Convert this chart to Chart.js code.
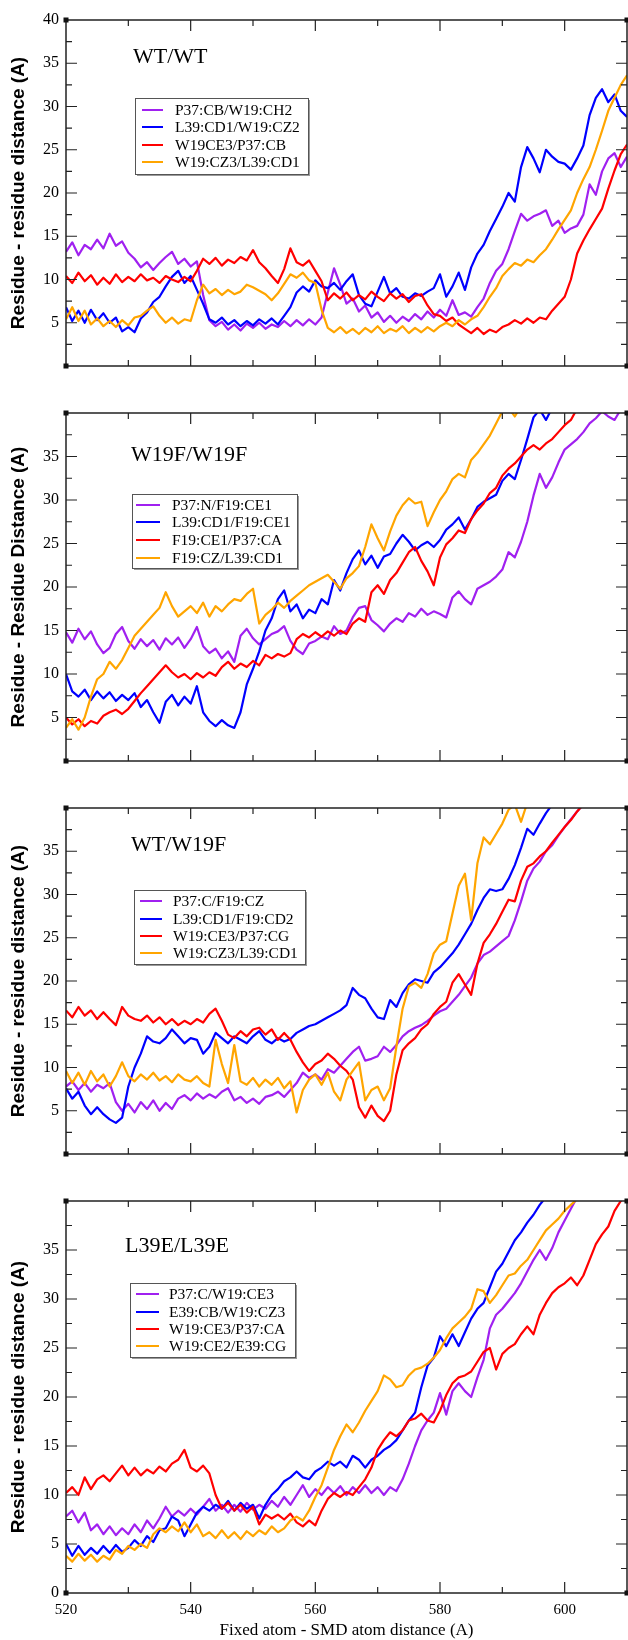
<!DOCTYPE html>
<html><head><meta charset="utf-8">
<script src="https://cdn.jsdelivr.net/npm/chart.js@4.4.1/dist/chart.umd.min.js"></script>
<style>
html,body{margin:0;padding:0;background:#fff;}
#wrap{position:relative;width:628px;height:1640px;overflow:hidden;background:#fff;}
#wrap canvas{position:absolute;left:0;}
</style></head><body><div id="wrap"></div>
<script>
// x positions (Fixed atom - SMD atom distance, A)
const X = [520,521,522,523,524,525,526,527,528,529,530,531,532,533,534,535,536,537,538,539,
540,541,542,543,544,545,546,547,548,549,550,551,552,553,554,555,556,557,558,559,
560,561,562,563,564,565,566,567,568,569,570,571,572,573,574,575,576,577,578,579,
580,581,582,583,584,585,586,587,588,589,590,591,592,593,594,595,596,597,598,599,
600,601,602,603,604,605,606,607,608,609,610];
const xTickValues = [520,540,560,580,600];
const yTickValues = [0,5,10,15,20,25,30,35,40];

const panelTitles = ['WT/WT','W19F/W19F','WT/W19F','L39E/L39E'];
const yTitles = ['Residue - residue distance (A)','Residue - Residue Distance (A)','Residue - residue distance (A)','Residue - residue distance (A)'];
const xTitle = 'Fixed atom - SMD atom distance (A)';

const labels1 = ['P37:CB/W19:CH2','L39:CD1/W19:CZ2','W19CE3/P37:CB','W19:CZ3/L39:CD1'];
const labels2 = ['P37:N/F19:CE1','L39:CD1/F19:CE1','F19:CE1/P37:CA','F19:CZ/L39:CD1'];
const labels3 = ['P37:C/F19:CZ','L39:CD1/F19:CD2','W19:CE3/P37:CG','W19:CZ3/L39:CD1'];
const labels4 = ['P37:C/W19:CE3','E39:CB/W19:CZ3','W19:CE3/P37:CA','W19:CE2/E39:CG'];

// Panel 1: WT/WT
const p1Purple = [13.2,14.3,12.8,14.0,13.5,14.6,13.6,15.3,13.9,14.4,13.1,12.4,11.4,12.0,11.1,11.9,12.6,13.2,11.8,12.4,
11.5,12.1,8.2,5.3,4.6,5.1,4.2,4.8,4.1,4.9,4.4,5.0,4.3,4.8,4.5,5.2,4.6,5.3,4.7,5.4,
4.8,5.6,8.5,11.3,9.4,7.2,7.8,6.3,7.0,5.6,6.2,5.1,5.8,5.0,5.7,5.2,6.0,5.4,6.3,5.6,
6.5,5.8,7.6,5.9,6.2,5.7,6.8,7.8,9.6,11.0,11.8,13.5,15.6,17.6,16.8,17.3,17.6,18.0,16.2,16.8,
15.4,15.9,16.2,17.5,21.0,19.8,22.5,24.0,24.6,23.0,24.2];
const p1Blue = [6.8,5.2,6.4,5.0,6.5,5.3,6.1,5.0,5.6,4.0,4.5,3.9,5.5,6.2,7.4,8.0,9.2,10.3,11.0,9.6,
10.4,8.8,7.2,5.4,5.0,5.6,4.8,5.3,4.6,5.2,4.7,5.4,4.9,5.5,4.8,5.8,6.8,8.5,9.2,8.6,
9.9,9.2,9.0,9.6,8.8,9.8,10.6,8.2,7.2,6.9,8.6,10.3,8.4,9.0,8.0,7.8,8.4,8.1,8.6,9.0,
10.6,8.0,9.2,10.8,8.8,11.4,13.0,14.0,15.6,17.0,18.4,20.0,19.0,23.0,25.3,24.0,22.4,25.0,24.2,23.6,
23.4,22.7,24.0,25.5,29.0,31.0,32.0,30.5,31.4,29.5,28.8];
const p1Red = [10.4,9.6,10.8,9.8,10.5,9.4,10.2,9.5,10.6,9.7,10.3,9.8,10.6,9.9,10.2,9.6,10.4,10.0,9.7,10.3,
9.8,11.0,12.4,11.8,12.5,11.6,12.3,11.9,12.6,12.2,13.4,12.0,11.3,10.4,9.6,11.2,13.6,12.0,11.6,12.2,
11.0,9.8,7.6,8.4,7.8,8.5,7.6,8.2,7.7,8.6,8.0,7.5,8.4,7.8,8.3,7.4,8.1,8.3,7.0,6.0,
5.8,5.2,5.6,4.8,4.3,3.8,4.4,3.7,4.2,3.9,4.5,4.8,5.3,4.9,5.5,5.0,5.6,5.4,6.4,7.2,
8.0,10.0,13.0,14.5,15.8,17.0,18.2,20.5,22.6,24.5,25.6];
const p1Orange = [5.4,6.8,5.2,6.4,4.8,5.5,4.6,5.2,4.5,5.3,4.7,5.6,5.8,6.4,6.9,5.8,5.0,5.6,4.9,5.4,
5.2,7.6,9.4,8.4,8.9,8.2,8.8,8.3,8.6,9.4,9.1,8.7,8.3,7.6,8.4,9.5,10.6,10.2,10.8,9.9,
9.6,6.5,4.4,3.9,4.5,3.8,4.3,3.7,4.4,3.9,4.6,3.8,4.3,4.0,4.6,3.8,4.4,3.9,4.5,4.0,
4.6,5.0,4.6,5.3,4.8,5.4,5.8,6.8,8.0,9.0,10.4,11.2,11.9,11.6,12.3,12.0,12.8,13.5,14.6,15.8,
16.9,18.0,20.0,21.6,23.0,25.0,27.2,29.5,31.0,32.5,33.6];

// Panel 2: W19F/W19F
const p2Purple = [14.8,13.6,15.2,14.0,14.9,13.4,12.4,13.0,14.6,15.4,13.8,12.9,14.0,13.2,13.9,12.8,14.1,13.4,14.2,13.0,
14.0,15.4,13.2,12.4,12.9,11.8,12.6,11.4,14.4,15.2,14.1,13.4,14.0,14.6,14.9,15.5,13.8,12.8,12.3,13.5,
13.8,14.3,14.0,15.5,14.6,15.0,16.5,17.6,17.8,16.2,15.6,14.9,15.8,16.4,16.0,17.0,16.6,17.5,16.8,17.2,
16.9,16.5,18.8,19.5,18.6,18.0,19.8,20.2,20.6,21.2,22.0,24.0,23.4,25.2,27.5,30.5,33.0,31.4,32.6,34.3,
35.8,36.4,37.0,37.8,38.8,39.4,40.2,39.6,39.2,40.4,41.0];
const p2Blue = [10.0,8.0,7.4,8.2,7.0,8.0,7.2,7.9,6.9,7.6,7.0,7.8,6.2,7.0,5.6,4.4,6.8,7.6,6.4,7.4,
6.6,8.6,5.6,4.6,4.0,4.7,4.1,3.8,5.6,8.8,10.6,12.6,15.0,16.4,18.6,19.6,17.2,18.0,16.4,17.4,
17.0,18.6,18.0,20.8,19.6,21.6,23.2,24.2,22.6,23.6,22.2,23.5,23.8,25.0,26.0,25.2,24.2,24.8,25.2,24.6,
25.4,26.6,27.2,28.0,26.6,27.8,29.2,29.8,30.2,30.6,32.2,33.0,32.4,34.6,37.0,39.5,40.4,39.2,40.6,41.0,
42.0,42.5,43.0,43.5,44.0,44.5,45.0,45.5,46.0,46.5,47.0];
const p2Red = [5.0,4.2,4.8,4.0,4.6,4.3,5.2,5.6,5.9,5.4,6.0,6.9,7.8,8.6,9.4,10.2,11.0,10.2,9.6,10.0,
9.4,10.1,9.6,10.2,9.8,10.8,11.4,10.6,11.2,10.8,11.5,11.0,12.2,11.8,12.3,12.0,12.4,14.0,14.6,14.2,
14.8,14.3,14.9,14.4,15.0,14.6,15.8,16.4,16.0,19.4,20.2,19.2,20.8,21.6,22.8,24.0,24.6,23.0,21.8,20.2,
23.4,24.9,25.6,26.5,26.2,27.8,28.8,29.6,30.8,31.4,32.8,33.6,34.2,35.0,35.8,36.3,35.8,36.5,37.0,37.8,
38.6,39.2,40.5,41.2,41.5,42.0,42.5,43.0,43.5,44.0,44.5];
const p2Orange = [3.8,4.8,3.6,5.0,7.4,9.4,10.0,11.4,10.6,11.6,13.0,14.4,15.2,16.0,16.8,17.6,19.4,17.8,16.6,17.2,
17.8,17.0,18.2,16.6,17.8,17.2,18.0,18.6,18.4,19.2,19.8,15.8,16.8,17.4,18.2,17.6,18.4,19.0,19.6,20.2,
20.6,21.0,21.4,20.6,19.8,21.0,21.6,22.4,24.6,27.2,25.6,24.2,26.4,28.2,29.4,30.2,29.6,29.8,27.0,28.6,
30.0,31.0,32.4,33.0,32.6,34.6,35.4,36.4,37.4,38.8,40.2,40.6,39.6,40.8,40.2,41.4,42.0,42.5,43.0,43.5,
44.0,44.5,45.0,45.5,46.0,46.5,47.0,47.5,48.0,48.5,49.0];

// Panel 3: WT/W19F
const p3Purple = [7.8,8.4,7.4,8.2,7.2,8.0,7.6,8.2,6.0,5.0,5.8,4.8,6.0,5.2,6.2,5.0,5.9,5.2,6.4,6.8,
6.2,7.0,6.4,6.9,6.5,7.2,7.6,6.2,6.6,5.9,6.4,5.8,6.6,6.8,7.2,6.6,7.4,8.2,9.4,8.8,
9.2,8.6,9.8,9.4,10.2,11.0,11.8,12.4,10.8,11.0,11.3,12.4,11.8,12.6,13.6,14.2,14.6,14.9,15.4,16.0,
16.5,16.8,17.6,18.4,19.4,20.4,22.0,23.0,23.4,24.0,24.6,25.2,27.0,29.2,31.6,33.0,33.8,35.0,35.7,36.8,
37.8,38.7,39.6,40.4,41.0,41.5,42.0,42.5,43.0,43.5,44.0];
const p3Blue = [7.6,6.4,7.2,5.6,4.6,5.4,4.6,4.0,3.6,4.2,7.8,10.0,11.6,13.6,13.0,12.8,13.4,14.4,13.6,12.8,
13.4,13.2,11.6,12.4,14.0,13.4,12.8,13.6,13.2,12.8,13.6,14.2,13.2,12.8,13.4,13.0,13.3,14.0,14.4,14.8,
15.0,15.4,15.8,16.2,16.6,17.2,19.2,18.4,18.0,16.8,15.8,15.6,17.8,17.0,18.6,19.6,20.2,20.0,19.8,21.0,
21.6,22.4,23.2,24.2,25.4,26.6,28.2,29.6,30.6,30.4,30.6,31.8,33.4,35.4,37.6,36.9,38.2,39.4,40.4,41.0,
41.5,42.0,42.5,43.0,43.5,44.0,44.5,45.0,45.5,46.0,46.5];
const p3Red = [16.6,15.8,17.0,16.0,16.6,15.6,16.4,15.6,14.9,17.0,16.0,15.6,15.4,16.0,15.2,15.8,15.0,15.6,14.9,15.4,
15.0,15.6,15.2,16.2,16.8,15.4,13.8,13.4,14.2,13.6,14.4,14.6,13.8,14.4,13.2,14.0,13.2,11.8,10.6,9.6,
10.4,10.8,11.6,11.0,10.2,9.6,8.6,5.4,4.2,5.6,4.4,3.8,5.0,9.2,12.0,12.8,13.4,14.4,15.0,16.2,
17.0,17.6,19.8,20.8,19.6,18.4,22.0,24.4,25.4,26.6,28.0,29.4,29.2,31.6,33.2,33.6,34.4,35.0,36.0,36.9,
37.8,38.6,39.6,40.4,41.0,41.5,42.0,42.5,43.0,43.5,44.0];
const p3Orange = [9.6,8.2,9.4,8.0,9.6,8.4,9.2,7.8,9.0,10.6,9.0,8.4,9.2,8.6,9.4,8.5,9.0,8.3,9.2,8.6,
8.4,9.0,8.2,7.8,13.2,10.4,8.2,12.6,8.4,8.0,8.8,7.8,8.6,8.0,8.8,7.6,8.4,4.8,7.4,8.6,
9.2,8.0,9.4,7.2,6.2,8.6,9.6,10.6,6.2,7.4,7.8,6.2,7.6,12.4,16.8,19.4,19.8,19.2,20.8,23.2,
24.2,24.6,27.8,31.0,32.4,27.0,33.6,36.6,35.8,37.0,38.2,39.8,40.4,38.4,40.6,41.0,41.5,42.0,42.5,43.0,
43.5,44.0,44.5,45.0,45.5,46.0,46.5,47.0,47.5,48.0,48.5];

// Panel 4: L39E/L39E
const p4Purple = [7.8,8.4,7.2,8.2,6.4,7.0,6.0,6.8,5.9,6.6,6.0,7.0,6.2,7.4,6.6,7.6,8.8,7.8,8.4,7.9,
8.6,8.0,8.8,9.6,8.4,9.0,8.2,9.0,8.3,9.2,8.5,9.0,8.6,9.4,8.8,9.8,9.0,10.0,11.0,9.8,
10.6,10.0,10.8,10.2,10.9,10.0,10.8,10.2,11.0,10.2,10.8,10.0,10.8,10.4,11.6,13.2,15.0,16.6,17.6,18.4,
20.4,18.2,20.6,21.4,20.6,20.0,22.0,23.8,27.0,28.4,29.0,29.8,30.6,31.6,32.8,34.0,35.0,34.0,35.2,36.8,
38.0,39.2,40.4,41.0,41.5,42.0,42.5,43.0,43.5,44.0,44.5];
const p4Blue = [5.0,3.8,4.8,3.9,4.6,4.0,4.8,4.1,4.9,4.2,4.6,5.4,4.8,5.8,5.2,6.4,6.6,7.8,7.4,5.8,
7.0,8.2,8.8,8.4,9.0,8.6,9.4,8.4,9.2,8.6,9.0,7.6,9.0,10.0,10.6,11.4,11.8,12.4,11.8,11.6,
12.4,12.8,13.4,13.0,13.4,12.8,14.0,13.6,12.8,13.6,14.0,14.6,15.0,15.6,16.6,17.6,18.4,21.0,23.2,24.0,
26.2,25.2,26.4,25.2,26.6,28.0,29.0,29.6,31.2,32.8,33.6,34.8,36.0,36.8,37.8,38.6,39.6,40.4,41.0,41.5,
42.0,42.5,43.0,43.5,44.0,44.5,45.0,45.5,46.0,46.5,47.0];
const p4Red = [10.2,10.8,10.0,11.8,10.6,11.6,12.0,11.4,12.2,13.0,12.0,12.8,12.0,12.6,12.2,12.9,12.4,13.2,13.6,14.6,
12.8,12.4,13.0,12.2,10.0,8.6,9.2,8.4,9.0,8.2,8.8,7.0,8.0,7.6,8.0,7.5,8.1,7.2,6.8,7.4,
6.9,8.4,9.6,10.2,9.8,10.3,10.0,10.8,11.6,12.8,14.6,15.6,16.4,16.0,16.6,17.6,17.8,18.3,17.6,17.4,
18.6,20.2,21.4,22.0,22.2,22.6,23.6,24.6,25.0,22.8,24.4,25.0,25.4,26.4,27.2,26.4,28.4,29.6,30.6,31.2,
31.6,32.2,31.4,32.4,34.0,35.6,36.6,37.4,39.0,40.0,40.8];
const p4Orange = [3.8,3.2,4.0,3.3,3.9,3.2,3.8,3.4,4.4,4.0,4.8,4.4,5.0,4.6,6.0,6.6,6.2,6.8,6.3,7.2,
6.2,7.0,5.8,6.2,5.6,6.4,5.6,6.2,5.5,6.3,5.8,6.4,6.0,6.8,6.2,6.6,7.4,7.8,7.4,8.4,
9.8,11.0,12.8,14.6,16.0,17.2,16.4,17.4,18.6,19.6,20.6,22.2,21.8,21.0,21.2,22.2,22.8,23.0,23.4,24.0,
24.8,26.0,27.0,27.6,28.2,29.0,31.0,30.8,29.6,30.4,31.4,32.4,32.6,33.4,34.0,35.0,36.0,37.0,37.6,38.2,
39.0,39.6,40.2,40.8,41.4,42.0,42.5,43.0,43.5,44.0,44.5];

const COLORS = ['#a020f0','#0000ff','#ff0000','#ffa500'];

// layout (page pixels)
const PANELS = [
  {top:20, bottom:413, labels:labels1, series:[p1Purple,p1Blue,p1Red,p1Orange], hide:[0],
   titleX:133, titleY:57, lg:{x:135,y:98,w:173,h:76,rows:[110,127,145,162],l0:142,l1:163,tx:175}},
  {top:413, bottom:808, labels:labels2, series:[p2Purple,p2Blue,p2Red,p2Orange], hide:[0,40],
   titleX:131, titleY:455, lg:{x:132,y:494,w:165,h:74,rows:[505,522,540,558],l0:136,l1:160,tx:172}},
  {top:808, bottom:1201, labels:labels3, series:[p3Purple,p3Blue,p3Red,p3Orange], hide:[0,40],
   titleX:131, titleY:845, lg:{x:134,y:890,w:171,h:74,rows:[901,919,936,953],l0:140,l1:162,tx:173}},
  {top:1201, bottom:1593, labels:labels4, series:[p4Purple,p4Blue,p4Red,p4Orange], hide:[40],
   titleX:125, titleY:1246, lg:{x:130,y:1283,w:165,h:74,rows:[1294,1312,1329,1346],l0:136,l1:159,tx:169}}
];

const framePlugin = {
  id:'frame',
  afterDatasetsDraw(chart, args, o) {
    const ctx = chart.ctx;
    const {left,right,top,bottom} = chart.chartArea;
    const xs = chart.scales.x, ys = chart.scales.y;
    const off = o.offset;
    ctx.save();
    ctx.strokeStyle = '#222';
    ctx.lineWidth = 1.5;
    ctx.strokeRect(left, top, right-left, bottom-top);
    ctx.lineWidth = 1.2;
    ctx.beginPath();
    for (let v = 530; v < 610; v += 10) {
      const px = xs.getPixelForValue(v);
      const len = (v % 20 === 0) ? 11 : 6;
      ctx.moveTo(px, top); ctx.lineTo(px, top+len);
      ctx.moveTo(px, bottom); ctx.lineTo(px, bottom-len);
    }
    for (let v = 2.5; v < 40; v += 2.5) {
      const py = ys.getPixelForValue(v);
      const len = (v % 5 === 0) ? 11 : 6;
      ctx.moveTo(left, py); ctx.lineTo(left+len, py);
      ctx.moveTo(right, py); ctx.lineTo(right-len, py);
    }
    ctx.stroke();
    ctx.fillStyle = '#111';
    [[left,top],[right,top],[left,bottom],[right,bottom]].forEach(([a,b])=>ctx.fillRect(a-2.5,b-2.5,5,5));
    // panel title
    ctx.fillStyle = '#000';
    ctx.font = '22px "Liberation Serif"';
    ctx.textBaseline = 'middle';
    ctx.textAlign = 'left';
    ctx.fillText(o.title, o.titleX, o.titleY - off);
    // legend
    const lg = o.lg;
    ctx.fillStyle = '#9a9a9a';
    ctx.fillRect(lg.x+2, lg.y-off+2, lg.w, lg.h);
    ctx.fillStyle = '#fff';
    ctx.fillRect(lg.x, lg.y-off, lg.w, lg.h);
    ctx.strokeStyle = '#555';
    ctx.lineWidth = 1;
    ctx.strokeRect(lg.x+0.5, lg.y-off+0.5, lg.w, lg.h);
    ctx.font = '15.5px "Liberation Serif"';
    chart.data.datasets.forEach((ds, i) => {
      const ry = lg.rows[i] - off;
      ctx.strokeStyle = ds.borderColor;
      ctx.lineWidth = 2;
      ctx.beginPath(); ctx.moveTo(lg.l0, ry); ctx.lineTo(lg.l1, ry); ctx.stroke();
      ctx.fillStyle = '#000';
      ctx.fillText(ds.label, lg.tx, ry + 0.5);
    });
    ctx.restore();
  }
};

const wrap = document.getElementById('wrap');
PANELS.forEach((p, k) => {
  const last = k === PANELS.length - 1;
  const cTop = p.top - 20;
  const cH = last ? (1640 - cTop) : (p.bottom - p.top + 40);
  const cv = document.createElement('canvas');
  cv.width = 628; cv.height = cH;
  cv.style.top = cTop + 'px';
  cv.style.width = '628px'; cv.style.height = cH + 'px';
  wrap.appendChild(cv);
  new Chart(cv, {
    type: 'line',
    data: {
      datasets: p.series.map((s, i) => ({
        label: p.labels[i],
        data: s.map((y, j) => ({x: X[j], y: y})),
        borderColor: COLORS[i],
        backgroundColor: COLORS[i],
        borderWidth: 2.2,
        borderJoinStyle: 'round',
        pointRadius: 0,
        tension: 0,
        fill: false,
        order: 4 - i
      }))
    },
    options: {
      responsive: false,
      animation: false,
      devicePixelRatio: 1,
      layout: {padding: {top: 20, bottom: last ? 0 : 20, left: 0, right: 1}},
      plugins: {
        legend: {display: false},
        tooltip: {enabled: false},
        frame: {offset: cTop, title: panelTitles[k], titleX: p.titleX, titleY: p.titleY, lg: p.lg}
      },
      scales: {
        x: {
          type: 'linear', min: 520, max: 610, display: last,
          grid: {display: false, drawTicks: false}, border: {display: false},
          afterBuildTicks: (s) => { s.ticks = xTickValues.map(v => ({value: v})); },
          ticks: {padding: 8, color: '#000', font: {family: 'Liberation Serif', size: 15}, maxRotation: 0, autoSkip: false},
          title: {display: true, text: xTitle, color: '#000', font: {family: 'Liberation Serif', size: 17}, padding: {top: 0, bottom: -1}},
          afterFit: (s) => { s.height = 47; }
        },
        y: {
          type: 'linear', min: 0, max: 40,
          grid: {display: false, drawTicks: false}, border: {display: false},
          afterBuildTicks: (s) => { s.ticks = yTickValues.filter(v => !p.hide.includes(v)).map(v => ({value: v})); },
          ticks: {padding: 7, color: '#000', font: {family: 'Liberation Serif', size: 16}, autoSkip: false},
          title: {display: true, text: yTitles[k], color: '#000', font: {family: 'Liberation Sans', size: 19, weight: 'bold'}, padding: {top: 7, bottom: 0}},
          afterFit: (s) => { s.width = 66; }
        }
      }
    },
    plugins: [framePlugin]
  });
});
</script>
</body></html>
